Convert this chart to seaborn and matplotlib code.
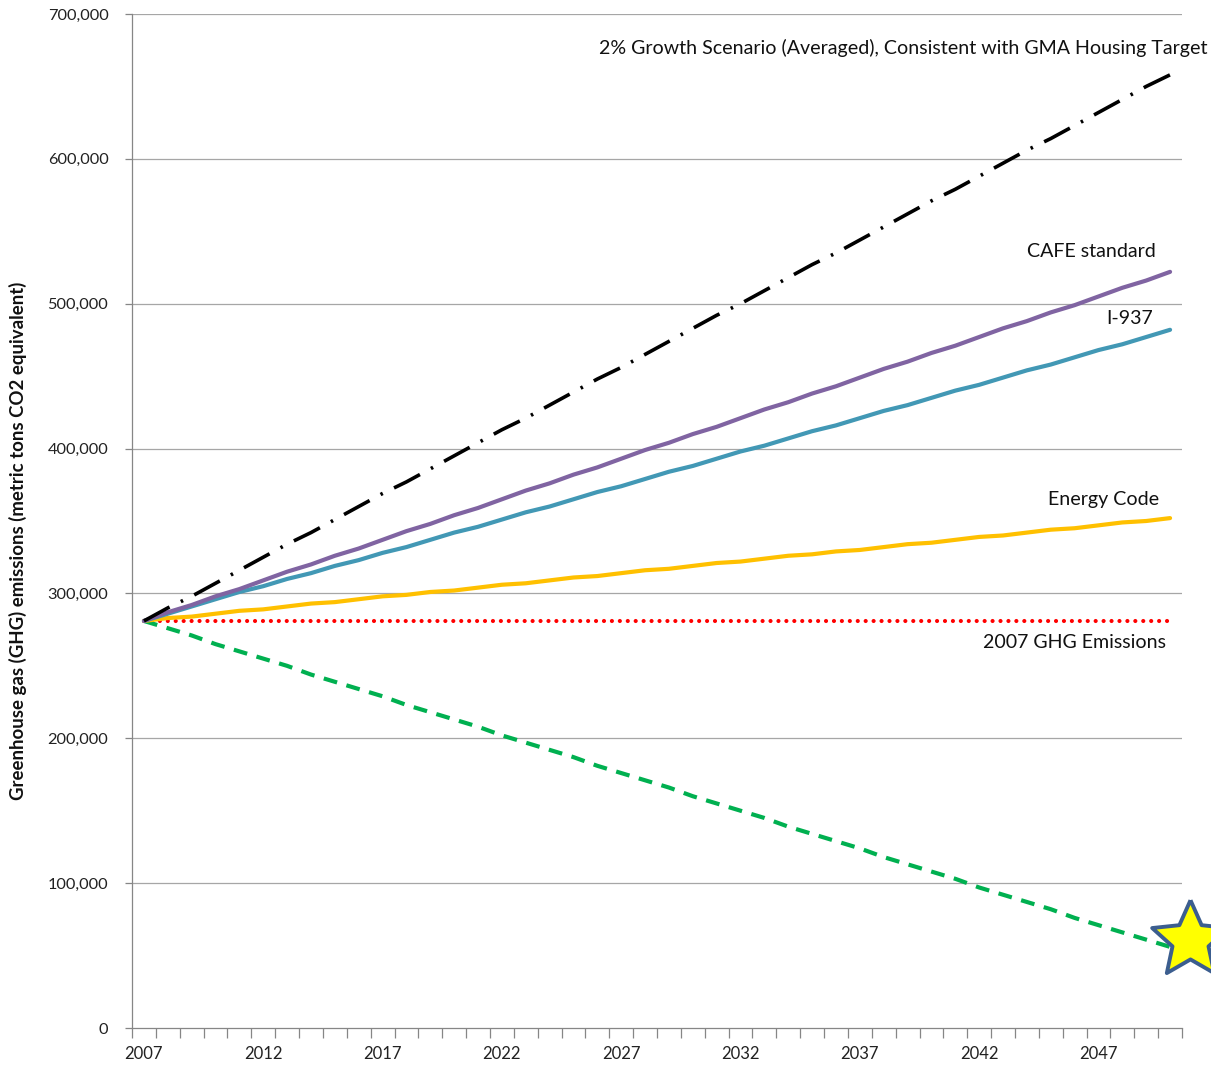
import matplotlib
matplotlib.use("Agg")
import matplotlib.pyplot as plt
import matplotlib.transforms as mtransforms
from matplotlib.ticker import FuncFormatter, FixedLocator
import seaborn as sns
import pandas as pd
import numpy as np

years = list(range(2007, 2051))

growth_2pct = [281, 290, 298, 307, 316, 325, 334, 342, 351, 360, 369, 377, 386, 395, 404,
               413, 421, 430, 439, 448, 456, 465, 474, 483, 492, 500, 509, 518, 527, 535,
               544, 553, 562, 571, 579, 588, 597, 606, 614, 623, 632, 641, 650, 658]
cafe = [281, 287, 292, 298, 303, 309, 315, 320, 326, 331, 337, 343, 348, 354, 359, 365,
        371, 376, 382, 387, 393, 399, 404, 410, 415, 421, 427, 432, 438, 443, 449, 455,
        460, 466, 471, 477, 483, 488, 494, 499, 505, 511, 516, 522]
i937 = [281, 286, 291, 296, 301, 305, 310, 314, 319, 323, 328, 332, 337, 342, 346, 351,
        356, 360, 365, 370, 374, 379, 384, 388, 393, 398, 402, 407, 412, 416, 421, 426,
        430, 435, 440, 444, 449, 454, 458, 463, 468, 472, 477, 482]
energy_code = [281, 283, 284, 286, 288, 289, 291, 293, 294, 296, 298, 299, 301, 302, 304,
               306, 307, 309, 311, 312, 314, 316, 317, 319, 321, 322, 324, 326, 327, 329,
               330, 332, 334, 335, 337, 339, 340, 342, 344, 345, 347, 349, 350, 352]
ghg_2007 = [281] * 44
target = [281, 276, 271, 265, 260, 255, 250, 244, 239, 234, 229, 223, 218, 213, 208, 202,
          197, 192, 187, 181, 176, 171, 166, 160, 155, 150, 145, 139, 134, 129, 124, 118,
          113, 108, 103, 97, 92, 87, 82, 76, 71, 66, 61, 56]

x_tick_labels = [2007, 2012, 2017, 2022, 2027, 2032, 2037, 2042, 2047]
y_ticks = [0, 100000, 200000, 300000, 400000, 500000, 600000, 700000]

df = pd.DataFrame({
    "year": years,
    "growth": [v * 1000 for v in growth_2pct],
    "cafe": [v * 1000 for v in cafe],
    "i937": [v * 1000 for v in i937],
    "energy": [v * 1000 for v in energy_code],
    "ghg2007": [v * 1000 for v in ghg_2007],
    "target": [v * 1000 for v in target],
})

sns.set_theme(style="white")
plt.rcParams["font.family"] = ["Lato", "DejaVu Sans"]
plt.rcParams["lines.scale_dashes"] = False

fig = plt.figure(figsize=(12.11, 10.67), dpi=100)
ax = fig.add_axes([132 / 1211, 1 - 1028 / 1067, (1182 - 132) / 1211, (1028 - 14) / 1067])

ax.grid(False)
for v in y_ticks[1:]:
    ax.axhline(v, color="#a6a6a6", lw=0.9, zorder=0)

sns.lineplot(data=df, x="year", y="ghg2007", ax=ax, color="#ff0000", lw=3.0,
             linestyle=(0, (0.01, 5.7)), dash_capstyle="round", zorder=2)
sns.lineplot(data=df, x="year", y="target", ax=ax, color="#00b050", lw=3.0,
             linestyle=(0, (10, 7)), zorder=3)
sns.lineplot(data=df, x="year", y="energy", ax=ax, color="#ffc000", lw=3.0, zorder=3)
sns.lineplot(data=df, x="year", y="i937", ax=ax, color="#4298b5", lw=3.0, zorder=4)
sns.lineplot(data=df, x="year", y="cafe", ax=ax, color="#8064a2", lw=3.0, zorder=4)
sns.lineplot(data=df, x="year", y="growth", ax=ax, color="#000000", lw=2.6,
             linestyle=(0, (21, 9, 1.8, 9)), zorder=5)

# fat five-point star marker (Excel-like shape)
ang = np.pi / 2 + np.arange(10) * np.pi / 5
rad = np.where(np.arange(10) % 2 == 0, 1.0, 0.47)
star_verts = list(zip(rad * np.cos(ang), rad * np.sin(ang)))
star_verts.append(star_verts[0])

offset = mtransforms.ScaledTranslation(0.20, 0.07, fig.dpi_scale_trans)
ax.plot([df["year"].iloc[-1]], [df["target"].iloc[-1]], marker=star_verts, markersize=58,
        markerfacecolor="#ffff00", markeredgecolor="#3c5e8f", markeredgewidth=2.8,
        linestyle="none", clip_on=False, zorder=10, transform=ax.transData + offset)

ax.set_xlim(2006.5, 2050.5)
ax.set_ylim(0, 700000)

ax.set_yticks(y_ticks)
ax.yaxis.set_major_formatter(FuncFormatter(lambda v, p: "0" if v == 0 else f"{int(v):,}"))
ax.set_xticks(x_tick_labels)
ax.set_xticklabels([str(v) for v in x_tick_labels])
ax.xaxis.set_minor_locator(FixedLocator([y - 0.5 for y in years] + [2050.5]))

ax.tick_params(axis="x", which="major", length=0, pad=13, labelsize=12, labelcolor="#222222")
ax.tick_params(axis="x", which="minor", length=7, width=0.9, color="#868686", direction="out", bottom=True)
ax.tick_params(axis="y", which="major", length=5, width=0.9, color="#868686", direction="out",
               left=True, pad=12, labelsize=11.8, labelcolor="#222222")

for s in ["top", "right"]:
    ax.spines[s].set_visible(False)
for s in ["left", "bottom"]:
    ax.spines[s].set_color("#868686")
    ax.spines[s].set_linewidth(0.9)

ax.set_xlabel("")
ax.set_ylabel("")
fig.text(18 / 1211, 1 - 541 / 1067, "Greenhouse gas (GHG) emissions (metric tons CO2 equivalent)",
         rotation=90, ha="center", va="center", fontsize=13.4, fontweight="bold", color="#111111")

lab_kw = dict(fontsize=14.1, color="#111111", va="center")
ax.text(2051.55, 676500, "2% Growth Scenario (Averaged), Consistent with GMA Housing Target",
        ha="right", clip_on=False, **lab_kw)
ax.text(2046.7, 536000, "CAFE standard", ha="center", **lab_kw)
ax.text(2048.3, 490000, "I-937", ha="center", **lab_kw)
ax.text(2047.2, 364500, "Energy Code", ha="center", **lab_kw)
ax.text(2046.0, 265800, "2007 GHG Emissions", ha="center", **lab_kw)

fig.savefig("out.png", dpi=100)
